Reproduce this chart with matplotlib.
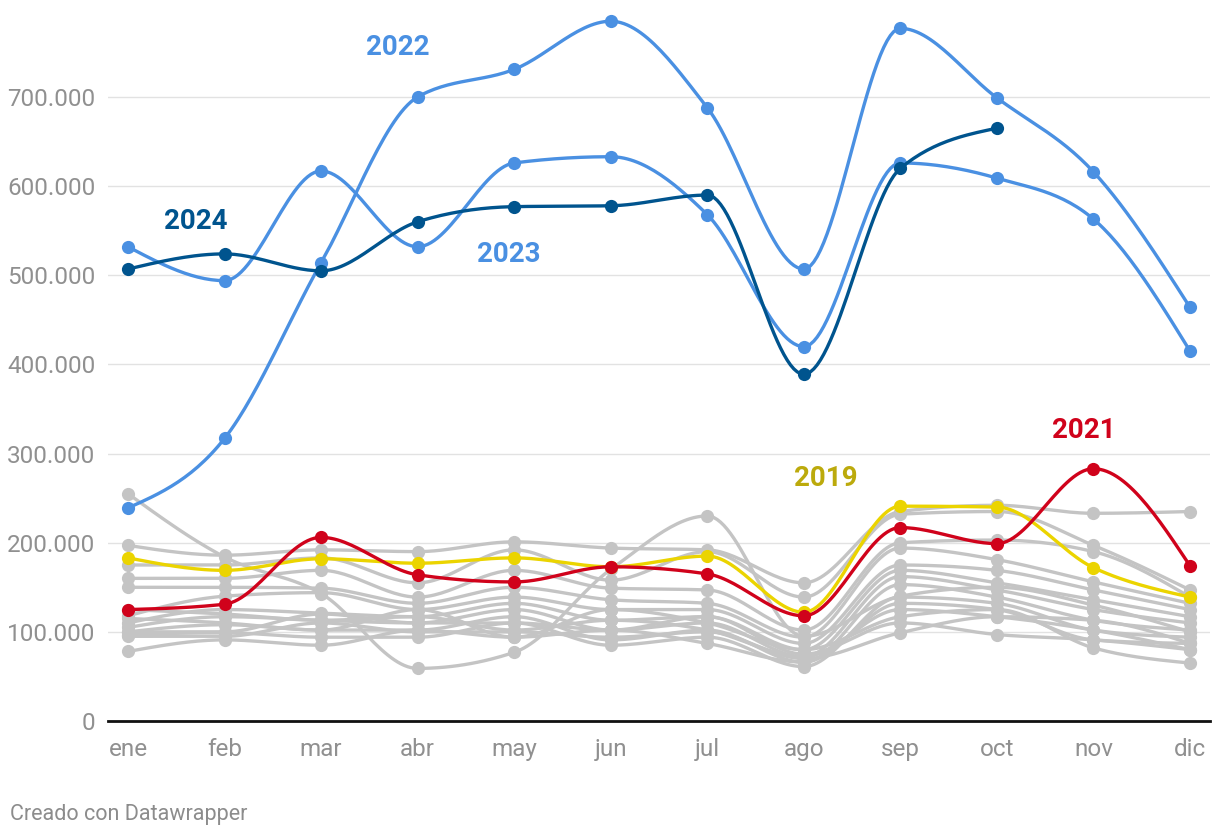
import numpy as np
import matplotlib
matplotlib.use('Agg')
import matplotlib.pyplot as plt
from matplotlib.ticker import FuncFormatter

plt.rcParams['font.family'] = ['Roboto', 'DejaVu Sans']

# ================= datos =================
months = ['ene', 'feb', 'mar', 'abr', 'may', 'jun', 'jul', 'ago', 'sep', 'oct', 'nov', 'dic']

y2024 = [507, 524, 505, 560, 577, 578, 590, 389, 620, 665]
y2023 = [532, 494, 617, 532, 626, 633, 568, 420, 626, 609, 563, 415]
y2022 = [239, 317, 514, 700, 731, 785, 688, 507, 777, 699, 616, 464]
y2021 = [125, 131, 206, 164, 156, 173, 165, 118, 217, 199, 283, 174]
y2019 = [183, 169, 182, 177, 183, 173, 185, 122, 241, 240, 172, 139]

# resto de años (gris), miles
grey_years = [
    [255, 184, 143, 59, 77, 170, 230, 95, 140, 150, 130, 100],
    [197, 186, 192, 190, 201, 194, 192, 155, 235, 242, 233, 235],
    [175, 175, 183, 155, 192, 158, 190, 139, 232, 235, 197, 147],
    [160, 160, 169, 139, 169, 149, 147, 102, 200, 203, 190, 139],
    [150, 150, 149, 132, 150, 136, 132, 94, 194, 181, 156, 132],
    [118, 140, 144, 125, 139, 125, 125, 87, 175, 169, 147, 125],
    [110, 125, 121, 117, 132, 113, 117, 80, 169, 155, 136, 117],
    [105, 117, 113, 110, 125, 102, 110, 72, 162, 147, 125, 110],
    [100, 108, 102, 102, 117, 91, 102, 66, 153, 139, 113, 102],
    [97, 99, 94, 94, 110, 85, 94, 61, 139, 132, 102, 94],
    [78, 91, 85, 102, 94, 102, 87, 66, 132, 125, 91, 87],
    [125, 120, 113, 117, 102, 113, 102, 72, 125, 117, 102, 80],
    [115, 110, 102, 125, 94, 125, 110, 80, 117, 125, 82, 65],
    [100, 100, 120, 110, 110, 102, 117, 75, 110, 97, 91, 80],
    [95, 95, 110, 100, 100, 94, 100, 70, 99, 117, 113, 87],
]

GREY = '#c4c4c4'
BLUE = '#4a90e2'
DARK = '#00548e'
RED = '#d0021b'
YELLOW = '#ebd400'


def monotone(ys):
    # curva monótona tipo d3.curveMonotoneX
    y = np.asarray(ys, dtype=float) * 1000
    x = np.arange(len(y), dtype=float)
    n = len(y)
    s = np.diff(y)
    t = np.zeros(n)
    for i in range(1, n - 1):
        s0, s1 = s[i - 1], s[i]
        p = (s0 + s1) / 2
        t[i] = (np.sign(s0) + np.sign(s1)) * min(abs(s0), abs(s1), 0.5 * abs(p))
    t[0] = (3 * s[0] - t[1]) / 2
    t[-1] = (3 * s[-1] - t[-2]) / 2
    xs, yy = [], []
    for i in range(n - 1):
        u = np.linspace(0, 1, 30)
        h00 = 2 * u**3 - 3 * u**2 + 1
        h10 = u**3 - 2 * u**2 + u
        h01 = -2 * u**3 + 3 * u**2
        h11 = u**3 - u**2
        xs.append(x[i] + u)
        yy.append(h00 * y[i] + h10 * t[i] + h01 * y[i + 1] + h11 * t[i + 1])
    return np.concatenate(xs), np.concatenate(yy), x, y


def draw(ax, ys, color, lw=2.4, ms=9.5, z=2):
    cx, cy, px, py = monotone(ys)
    ax.plot(cx, cy, color=color, lw=lw, zorder=z, solid_capstyle='round')
    ax.plot(px, py, 'o', color=color, ms=ms, mec='none', zorder=z)


fig = plt.figure(figsize=(12.2, 8.38), dpi=100)
ax = fig.add_axes([108 / 1220, 117 / 838, 1102 / 1220, 711 / 838])

for g in grey_years:
    draw(ax, g, GREY, z=2)
draw(ax, y2019, YELLOW, z=3)
draw(ax, y2021, RED, z=4)
draw(ax, y2023, BLUE, z=5)
draw(ax, y2022, BLUE, z=5)
draw(ax, y2024, DARK, z=6)

# etiquetas de serie
lab = dict(fontsize=20, fontweight='bold', ha='center', va='center', zorder=10)
ax.text(2.79, 756000, '2022', color=BLUE, **lab)
ax.text(0.70, 560000, '2024', color=DARK, **lab)
ax.text(3.94, 523000, '2023', color=BLUE, **lab)
ax.text(9.90, 326000, '2021', color=RED, **lab)
ax.text(7.23, 272000, '2019', color='#bcaa0c', **lab)

ax.set_xlim(-0.207, 11.207)
ax.set_ylim(0, 797600)
ax.set_xticks(range(12))
ax.set_xticklabels(months)
ax.set_yticks(range(0, 800000, 100000))
ax.yaxis.set_major_formatter(FuncFormatter(lambda v, p: f'{int(v):,}'.replace(',', '.')))

ax.grid(axis='y', color='#e2e2e2', lw=1)
ax.set_axisbelow(True)
for sp in ['top', 'right', 'left']:
    ax.spines[sp].set_visible(False)
ax.spines['bottom'].set_color('#111111')
ax.spines['bottom'].set_linewidth(2)
ax.spines['bottom'].set_zorder(1)
ax.tick_params(axis='both', length=0, labelsize=17.5, labelcolor='#909090')
ax.tick_params(axis='y', pad=9)
ax.tick_params(axis='x', pad=12)

fig.text(10 / 1220, 1 - 814 / 838, 'Creado con Datawrapper', fontsize=15.5,
         color='#8c8c8c', ha='left', va='center')

fig.savefig('out.png', dpi=100)
